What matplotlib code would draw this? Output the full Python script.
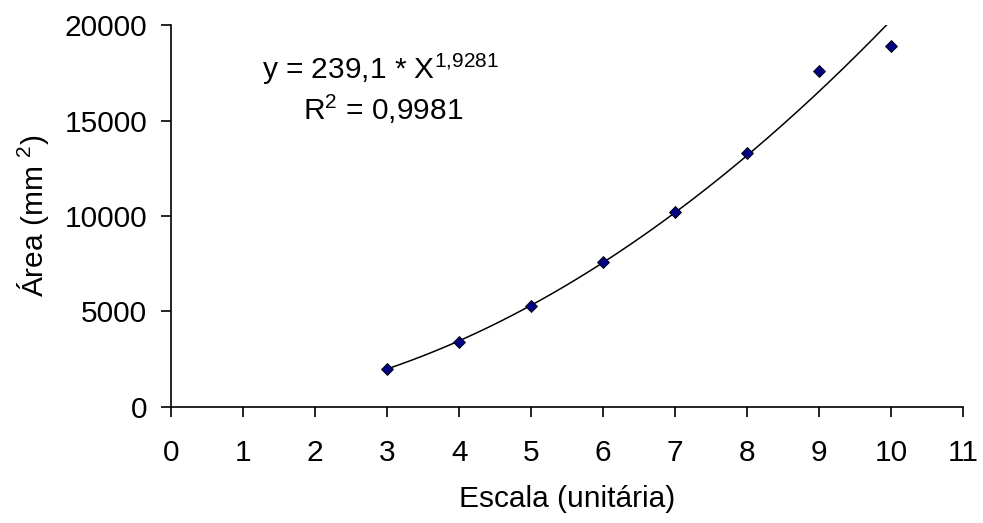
import numpy as np
import matplotlib
matplotlib.use("Agg")
from matplotlib import pyplot as plt

plt.rcParams['font.family'] = ['Liberation Sans', 'DejaVu Sans']
plt.rcParams['mathtext.fontset'] = 'custom'
plt.rcParams['mathtext.rm'] = 'Liberation Sans'
plt.rcParams['mathtext.it'] = 'Liberation Sans'

# data
escala = [3, 4, 5, 6, 7, 8, 9, 10]
area = [2000, 3400, 5300, 7600, 10200, 13300, 17600, 18900]

# power trendline as printed on the chart
coef_a = 239.1
coef_b = 1.9281
x_ticks = list(range(0, 12))
y_ticks = [0, 5000, 10000, 15000, 20000]

fs = 21.5

fig = plt.figure(figsize=(9.83, 5.23), dpi=100)
ax = fig.add_axes([0.174, 0.222, 0.806, 0.73])

xt = np.linspace(escala[0], escala[-1], 200)
ax.plot(xt, coef_a * xt ** coef_b, color='black', lw=1.1)
ax.plot(escala, area, linestyle='none', marker='D', ms=6.5,
        markerfacecolor='#000080', markeredgecolor='black', markeredgewidth=0.6)

ax.set_xlim(0, 11)
ax.set_ylim(0, 20000)
ax.set_xticks(x_ticks)
ax.set_yticks(y_ticks)
ax.spines['top'].set_visible(False)
ax.spines['right'].set_visible(False)
ax.spines['left'].set_linewidth(1.2)
ax.spines['bottom'].set_linewidth(1.2)
ax.tick_params(direction='out', length=7, width=1.2, labelsize=fs)
ax.tick_params(axis='x', pad=16)
ax.tick_params(axis='y', pad=10)

ax.set_xlabel('Escala (unitária)', fontsize=fs, labelpad=13)
ax.set_ylabel('Área (mm $^2$)', fontsize=fs, labelpad=10)

ax.text(0.115, 0.885, 'y = 239,1 * X$^{1{,}9281}$', transform=ax.transAxes,
        fontsize=fs, va='center', ha='left')
ax.text(0.166, 0.78, 'R$^2$ = 0,9981', transform=ax.transAxes,
        fontsize=fs, va='center', ha='left')

fig.savefig('out.png', dpi=100)
plt.close(fig)
